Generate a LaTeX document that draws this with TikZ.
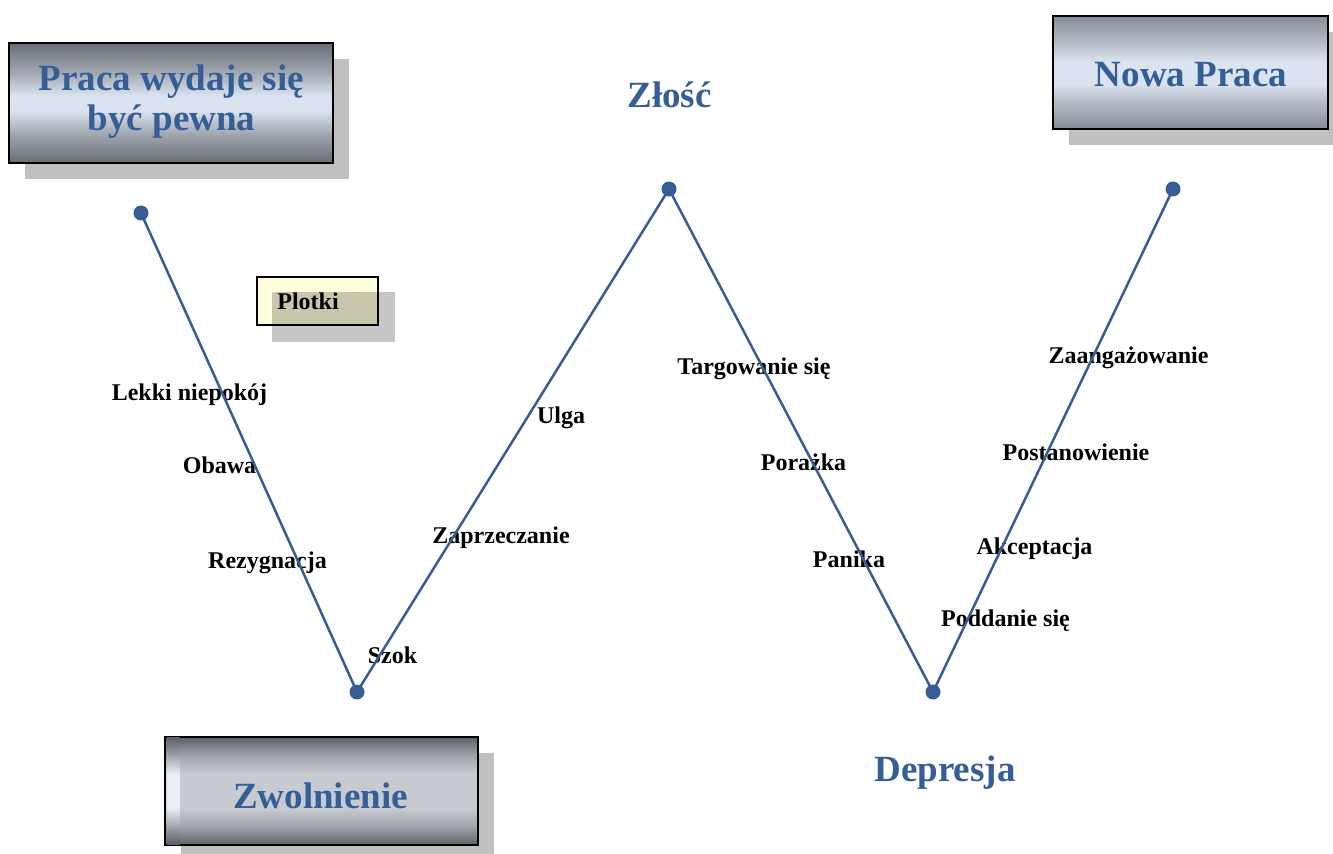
\documentclass[tikz,border=0pt]{standalone}
\usepackage{fontspec}
\setmainfont{Liberation Serif}
\usetikzlibrary{calc,shadows}

\definecolor{curveblue}{RGB}{55,93,148}
\definecolor{titleblue}{RGB}{52,94,150}
\definecolor{boxdark}{RGB}{104,109,117}
\definecolor{boxmid}{RGB}{160,166,175}
\definecolor{boxlight}{RGB}{218,227,239}
\definecolor{newdark}{RGB}{134,141,150}
\definecolor{newmid}{RGB}{176,184,194}
\definecolor{zwdark}{RGB}{92,97,104}
\definecolor{zwmid}{RGB}{156,161,168}
\definecolor{zwlight}{RGB}{199,203,209}
\definecolor{striplight}{RGB}{236,239,244}
\definecolor{shadowgray}{RGB}{192,192,192}
\definecolor{notefill}{RGB}{255,255,221}

% metallic vertical fills of the boxes
\pgfdeclareverticalshading{safemetal}{100bp}{color(0bp)=(boxdark); color(25bp)=(boxdark);
  color(37bp)=(boxmid); color(47bp)=(boxlight); color(53bp)=(boxlight);
  color(63bp)=(boxmid); color(75bp)=(boxdark); color(100bp)=(boxdark)}
\pgfdeclareverticalshading{newmetal}{100bp}{color(0bp)=(newdark); color(25bp)=(newdark);
  color(36bp)=(newmid); color(45bp)=(boxlight); color(55bp)=(boxlight);
  color(64bp)=(newmid); color(75bp)=(newdark); color(100bp)=(newdark)}
\pgfdeclareverticalshading{firedmetal}{100bp}{color(0bp)=(zwdark); color(25bp)=(zwdark);
  color(33bp)=(zwmid); color(42bp)=(zwlight); color(58bp)=(zwlight);
  color(67bp)=(zwmid); color(75bp)=(zwdark); color(100bp)=(zwdark)}
\pgfdeclareverticalshading{stripmetal}{100bp}{color(0bp)=(zwdark); color(25bp)=(zwdark);
  color(33bp)=(zwmid); color(42bp)=(striplight); color(58bp)=(striplight);
  color(67bp)=(zwmid); color(75bp)=(zwdark); color(100bp)=(zwdark)}

\tikzset{
  stagebox/.style={draw=black, line width=1.1pt, inner sep=0pt,
    drop shadow={shadow xshift=8pt, shadow yshift=-8pt, fill=shadowgray, opacity=1}},
  title/.style={text=titleblue, font=\fontsize{18.5}{20}\selectfont\bfseries, anchor=base},
  feeling/.style={text=black, font=\fontsize{12}{14}\selectfont\bfseries, anchor=base},
  dot/.style={circle, fill=curveblue, minimum size=7.5pt, inner sep=0pt},
  curve/.style={draw=curveblue, line width=1.25pt}
}

\begin{document}
\begin{tikzpicture}[x=0.5pt,y=-0.5pt]
	\useasboundingbox (0,0) rectangle (1333,853);

	% Boxes
	\node[stagebox, shading=safemetal, minimum width=162pt, minimum height=60pt] (safe) at (171,103) {};
	\node[stagebox, shading=firedmetal, minimum width=156.5pt, minimum height=54pt] (fired) at (321.5,791) {};
	\shade[shading=stripmetal] ($(fired.south west)+(3,-2)$) rectangle ($(fired.north west)+(16,2)$);
	\node[stagebox, shading=newmetal, minimum width=137.5pt, minimum height=56.5pt] (newjob) at (1190.5,72.5) {};
	\node[draw=black, line width=1pt, fill=notefill, minimum width=60.5pt,
	      minimum height=24pt, inner sep=0pt] (rumours) at (317.5,301) {};
	\fill[black, opacity=0.22] ($(rumours.south west)+(16,16)$) rectangle ($(rumours.north east)+(16,16)$);

	% Box texts
	\node[title, align=center] (safetext) at (171.5,130) {Praca wydaje się\\być pewna};
	\node[title] (firedtext) at (320.5,808) {Zwolnienie};
	\node[title] (newjobtext) at (1191,86) {Nowa Praca};
	\node[feeling] (rumourstext) at (308,309) {Plotki};
	\node[title] (anger) at (669.5,107) {Złość};
	\node[title] (depression) at (945,781) {Depresja};

	% Feelings along the curve
	\node[feeling] (unease) at (189.5,400) {Lekki niepokój};
	\node[feeling] (fear) at (219.5,473) {Obawa};
	\node[feeling] (resign) at (267.5,568) {Rezygnacja};
	\node[feeling] (shock) at (392.5,663) {Szok};
	\node[feeling] (denial) at (501,543) {Zaprzeczanie};
	\node[feeling] (relief) at (561,423) {Ulga};
	\node[feeling] (bargain) at (754,374) {Targowanie się};
	\node[feeling] (defeat) at (803.5,470) {Porażka};
	\node[feeling] (panic) at (849,567) {Panika};
	\node[feeling] (giveup) at (1005.5,626) {Poddanie się};
	\node[feeling] (accept) at (1034.5,554) {Akceptacja};
	\node[feeling] (resolve) at (1076,460) {Postanowienie};
	\node[feeling] (commit) at (1128.5,363) {Zaangażowanie};

	% Curve
	\node[dot] (p1) at (141,213) {};
	\node[dot] (p2) at (357,692) {};
	\node[dot] (p3) at (669,189) {};
	\node[dot] (p4) at (933,692) {};
	\node[dot] (p5) at (1173,189) {};
	\draw[curve] (p1.center) -- (p2.center) -- (p3.center) -- (p4.center) -- (p5.center);
\end{tikzpicture}
\end{document}
